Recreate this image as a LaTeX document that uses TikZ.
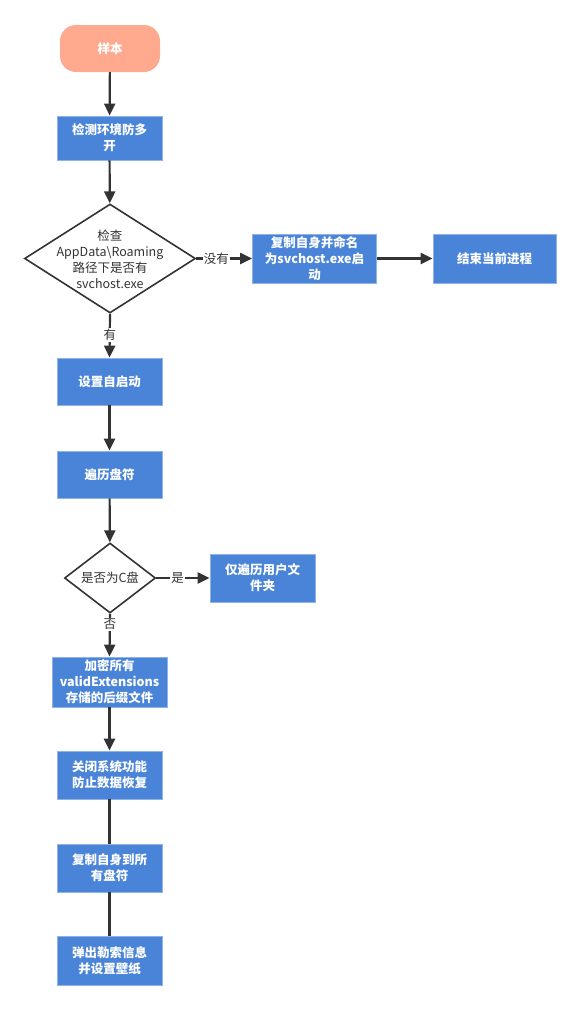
\documentclass[tikz,border=0pt]{standalone}
\usepackage{fontspec}
\setmainfont{Noto Sans CJK SC}
\usetikzlibrary{shapes.geometric,arrows.meta}
\definecolor{boxfill}{HTML}{4A84D8}
\definecolor{boxline}{HTML}{8FB2E8}
\definecolor{pill}{HTML}{FFAA8F}
\definecolor{ink}{HTML}{333333}
\tikzset{
  proc/.style={rectangle, fill=boxfill, draw=boxline, line width=0.8pt, text=white,
    font=\fontsize{12.5}{16}\selectfont\bfseries, align=center, inner sep=0pt},
  startbox/.style={rectangle, rounded corners=16pt, fill=pill, draw=none, text=white,
    font=\fontsize{12.5}{16}\selectfont\bfseries, minimum width=100pt, minimum height=47pt},
  decision/.style={diamond, draw=ink, line width=1.6pt, fill=white, inner sep=0pt},
  dtext/.style={text=ink, font=\fontsize{12.5}{16}\selectfont, align=center, inner sep=0pt},
  flow/.style={draw=ink, line width=2.2pt, -{Triangle[length=12pt,width=11pt]}},
  plain/.style={draw=ink, line width=2.2pt},
  elabel/.style={fill=white, text=ink, font=\fontsize{12.5}{16}\selectfont, inner sep=1pt},
}
\begin{document}
\begin{tikzpicture}[x=1pt,y=-1pt]
\useasboundingbox (0,0) rectangle (579,1010);
\node[startbox] (s) at (110,48.5) {样本};
\node[proc, minimum width=105pt, minimum height=44pt] (a) at (109.5,138) {检测环境防多\\开};
\node[decision, minimum width=171pt, minimum height=109pt] (d1) at (110,258.5) {};
\node[dtext] (d1t) at (110,259) {检查\\AppData\textbackslash Roaming\\路径下是否有\\svchost.exe};
\node[proc, minimum width=124pt, minimum height=49pt] (c) at (314.5,258.5) {复制自身并命名\\为svchost.exe启\\动};
\node[proc, minimum width=123pt, minimum height=49pt] (e) at (494.5,258.5) {结束当前进程};
\node[proc, minimum width=105pt, minimum height=47pt] (b) at (109.5,381.5) {设置自启动};
\node[proc, minimum width=105pt, minimum height=47pt] (t) at (109.5,474.5) {遍历盘符};
\node[decision, minimum width=91pt, minimum height=70pt] (d2) at (110,578) {};
\node[dtext] (d2t) at (110,578) {是否为C盘};
\node[proc, minimum width=105pt, minimum height=48pt] (u) at (262.5,578) {仅遍历用户文\\件夹};
\node[proc, minimum width=115pt, minimum height=50pt] (f) at (109.5,682) {加密所有\\validExtensions\\存储的后缀文件};
\node[proc, minimum width=105pt, minimum height=48pt] (g) at (109.5,775) {关闭系统功能\\防止数据恢复};
\node[proc, minimum width=105pt, minimum height=48pt] (h) at (109.5,868) {复制自身到所\\有盘符};
\node[proc, minimum width=105pt, minimum height=49pt] (k) at (109.5,960.5) {弹出勒索信息\\并设置壁纸};

\draw[flow] (s) -- (a);
\draw[flow] (a) -- (d1);
\draw[flow] (d1.east) -- node[elabel, pos=0.36] {没有} (c.west);
\draw[flow] (c) -- (e);
\draw[flow] (d1.south) -- node[elabel, pos=0.48] {有} (b.north);
\draw[flow] (b) -- (t);
\draw[flow] (t) -- (d2);
\draw[flow] (d2.east) -- node[elabel, pos=0.4] {是} (u.west);
\draw[flow] (d2.south) -- node[elabel, pos=0.25] {否} (f.north);
\draw[flow] (f) -- (g);
\draw[plain] (g) -- (h);
\draw[plain] (h) -- (k);
\end{tikzpicture}
\end{document}
